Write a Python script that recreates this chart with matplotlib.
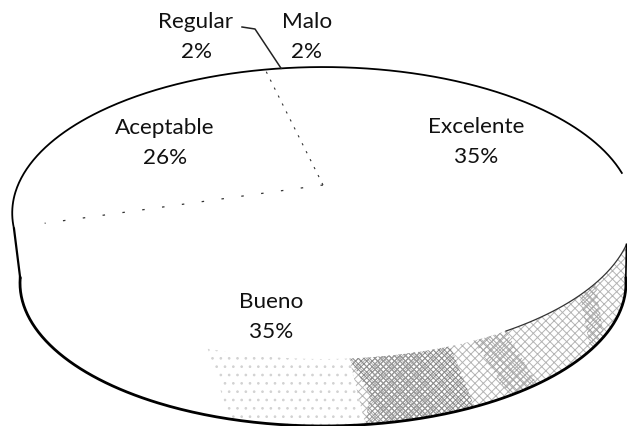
import numpy as np
import matplotlib
matplotlib.use('Agg')
import matplotlib.pyplot as plt

categorias = ['Regular', 'Malo', 'Excelente', 'Bueno', 'Aceptable']
valores = [2, 2, 35, 35, 26]
etiquetas = ['2%', '2%', '35%', '35%', '26%']

plt.rcParams['font.family'] = ['Lato', 'DejaVu Sans']
plt.rcParams['hatch.linewidth'] = 0.7

# pie seen in perspective, in image pixels
ax0, ay0 = 323, 186
A, B, k = 305, 140.6, 0.192
# lower rim
cx2, cy2, a2, b2 = 323, 284, 303, 143
inicio = -13


def borde(ang):
    ang = np.radians(ang)
    u, v = np.sin(ang), np.cos(ang)
    d = 1 + k * v
    return ax0 + A * u / d, ay0 - B * v / d


def borde2(ang):
    ang = np.radians(ang)
    return cx2 + a2 * np.sin(ang), cy2 - b2 * np.cos(ang)


def pared(ini, fin, ini2, fin2, color, hatch):
    xs, ys = borde(np.linspace(ini, fin, 100))
    xi, yi = borde2(np.linspace(ini2, fin2, 100))
    ax.fill(np.r_[xs, xi[::-1]], np.r_[ys, yi[::-1]], facecolor='none', edgecolor=color,
            hatch=hatch, linewidth=0)


fig = plt.figure(figsize=(6.27, 4.27), dpi=100)
ax = fig.add_axes([0, 0, 1, 1])
ax.set_xlim(0, 627)
ax.set_ylim(427, 0)
ax.axis('off')

# shaded side wall, blotchy and denser towards the front
pared(113, 176, 88, 172, '#b4b4b4', 'xxxx')
pared(160, 176, 150, 168, '#8c8c8c', 'xxxxxx')
pared(165, 172, 158, 172, '#999999', 'xxxxxx')
pared(150, 156, 135, 142, '#a6a6a6', 'xxxxx')
pared(128, 133, 112, 118, '#a6a6a6', 'xxxxx')
pared(176, 198, 172, 198, '#d2d2d2', '..')

# outlines
ax.plot(*borde(np.linspace(-107, 85, 300)), color='black', lw=1.3)
ax.plot(*borde(np.linspace(113, 150, 60)), color='#333333', lw=0.9)
ax.plot(*borde2(np.linspace(88, 272, 300)), color='black', lw=2.0)
xa, ya = borde(-107)
xb, yb = borde2(272)
ax.plot([xa, xb], [ya, yb], color='black', lw=1.6)
xa, ya = borde(113)
xb, yb = borde2(88)
ax.plot([xa, xb], [ya, yb], color='black', lw=1.2)

# slice boundaries, only faint traces survive in the scan
acum = inicio + np.cumsum([0] + valores) * 3.6
x, y = borde(acum[0])
ax.plot([ax0, x], [ay0, y], color='#333333', lw=0.8, ls=(0, (2, 6)))
x, y = borde(acum[4])
ax.plot([ax0, ax0 + 0.9 * (x - ax0)], [ay0, ay0 + 0.9 * (y - ay0)], color='#333333', lw=0.9, ls=(0, (2, 14)))

# leader of Regular
xl, yl = borde(acum[0] + valores[0] * 1.8)
ax.plot([242, 255, xl], [28, 30, yl], color='#222222', lw=1.1)

pos = [(196, 37), (307, 37), (476, 142), (271, 317), (165, 143)]
for nombre, et, p in zip(categorias, etiquetas, pos):
    ax.text(p[0], p[1], nombre + '\n' + et, ha='center', va='center', fontsize=16.2,
            color='#111111', linespacing=1.68)

fig.savefig('out.png', dpi=100)
